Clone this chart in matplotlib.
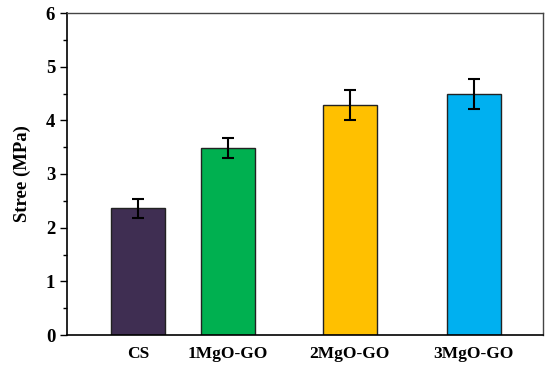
import numpy as np
import matplotlib.pyplot as plt

# sample names, stress values and error bars
samples = ['CS', '1MgO-GO', '2MgO-GO', '3MgO-GO']
stress = [2.36, 3.48, 4.28, 4.49]
stress_err = [0.18, 0.19, 0.28, 0.28]
bar_colors = ['#3F2E52', '#00B050', '#FFC000', '#00B0F0']

# bars are not evenly spaced in the original
xpos = [1.0, 2.0, 3.35, 4.73]

plt.rcParams['font.family'] = ['Liberation Serif', 'DejaVu Serif']
plt.rcParams['font.weight'] = 'bold'

fig = plt.figure(figsize=(5.5, 3.7), dpi=100)
ax = fig.add_axes([67 / 550, 1 - 335 / 370, 476 / 550, 322 / 370])

ax.bar(xpos, stress, width=0.6, color=bar_colors, edgecolor='#222222', linewidth=1.0,
       yerr=stress_err, error_kw=dict(ecolor='black', elinewidth=1.5, capsize=4, capthick=1.5))

ax.set_xlim(0.21, 5.5)
ax.set_ylim(0, 6)
ax.set_yticks(np.arange(0, 7, 1))
ax.set_yticks(np.arange(0.5, 6, 1), minor=True)
ax.set_xticks(xpos)
ax.set_xticklabels(samples)
ax.tick_params(axis='x', length=0, pad=8, labelsize=12.5)
ax.tick_params(axis='y', which='major', length=5, width=1, labelsize=13.5, direction='out')
ax.tick_params(axis='y', which='minor', length=3, width=1, direction='out')
ax.set_ylabel('Stree (MPa)', fontsize=13.5, fontweight='bold', labelpad=11)

for side in ['left', 'bottom']:
    ax.spines[side].set_color('black')
    ax.spines[side].set_linewidth(1.2)
for side in ['top', 'right']:
    ax.spines[side].set_color('#444444')
    ax.spines[side].set_linewidth(1.0)

plt.savefig('out.png', dpi=100)
